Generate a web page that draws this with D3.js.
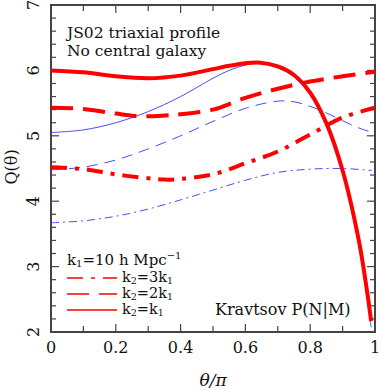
<!DOCTYPE html>
<html>
<head>
<meta charset="utf-8">
<script src="https://cdn.jsdelivr.net/npm/d3@7"></script>
<style>
  body { margin: 0; background: #fff; }
  svg text { font-family: "DejaVu Serif", "Liberation Serif", serif; fill: #111; }
</style>
</head>
<body>
<div class="vis"></div>
<script>
// theta/pi sample points and Q(theta)
const thetaA = [0, 0.1, 0.2, 0.3, 0.4, 0.5, 0.55, 0.6, 0.64, 0.7, 0.75, 0.8, 0.85, 0.9, 0.95, 0.975, 0.988]
const redSolid  = [6.0, 5.97, 5.91, 5.88, 5.92, 6.02, 6.07, 6.11, 6.12, 6.06, 5.93, 5.66, 5.19, 4.47, 3.4, 2.64, 2.17]
const blueSolid = [5.05, 5.09, 5.2, 5.37, 5.6, 5.88, 6.0, 6.08, 6.11, 6.04, 5.9, 5.62, 5.15, 4.42, 3.33, 2.55, 2.07]

const thetaB = [0, 0.1, 0.2, 0.27, 0.35, 0.4, 0.5, 0.6, 0.7, 0.8, 0.9, 1.0]
const redDash = [5.43, 5.41, 5.34, 5.30, 5.31, 5.33, 5.40, 5.58, 5.72, 5.83, 5.91, 5.98]

const thetaC = [0, 0.1, 0.2, 0.3, 0.4, 0.5, 0.6, 0.7, 0.75, 0.8, 0.85, 0.9, 0.95, 1.0]
const blueDash = [4.48, 4.52, 4.63, 4.8, 5.0, 5.22, 5.42, 5.53, 5.52, 5.45, 5.35, 5.23, 5.12, 5.04]

const thetaD = [0, 0.1, 0.2, 0.3, 0.35, 0.4, 0.5, 0.6, 0.7, 0.8, 0.9, 1.0]
const redDashDot = [4.52, 4.49, 4.41, 4.35, 4.33, 4.34, 4.41, 4.58, 4.76, 5.02, 5.28, 5.43]

const thetaE = [0, 0.1, 0.2, 0.3, 0.4, 0.5, 0.6, 0.7, 0.8, 0.9, 0.99]
const blueDashDot = [3.67, 3.7, 3.77, 3.88, 4.02, 4.17, 4.32, 4.44, 4.49, 4.5, 4.47]

const xTicks = [0, 0.2, 0.4, 0.6, 0.8, 1]
const yTicks = [2, 3, 4, 5, 6, 7]

const W = 382, H = 390
const m = {l: 51, r: 7, t: 5, b: 58}
const w = W - m.l - m.r, h = H - m.t - m.b

const svg = d3.select(".vis").append("svg").attr("width", W).attr("height", H)
const g = svg.append("g").attr("transform", `translate(${m.l}, ${m.t})`)

const x = d3.scaleLinear().domain([0, 1]).range([0, w])
const y = d3.scaleLinear().domain([2, 7]).range([h, 0])

g.append("clipPath").attr("id", "clip").append("rect").attr("width", w).attr("height", h)

// ticks, all inward on all four sides
const axisCol = "#444"
const xMinor = d3.range(0, 1.0001, 0.1)
const yMinor = d3.range(2, 7.0001, 0.2)
xMinor.forEach(v => {
    let major = xTicks.some(t => Math.abs(t - v) < 1e-6)
    let len = major ? 8 : 6
    g.append("line").attr("x1", x(v)).attr("x2", x(v)).attr("y1", h).attr("y2", h - len).attr("stroke", axisCol).attr("stroke-width", 1.2)
    g.append("line").attr("x1", x(v)).attr("x2", x(v)).attr("y1", 0).attr("y2", len).attr("stroke", axisCol).attr("stroke-width", 1.2)
})
yMinor.forEach(v => {
    let major = yTicks.some(t => Math.abs(t - v) < 1e-6)
    let len = major ? 8 : 5
    g.append("line").attr("y1", y(v)).attr("y2", y(v)).attr("x1", 0).attr("x2", len).attr("stroke", axisCol).attr("stroke-width", 1.2)
    g.append("line").attr("y1", y(v)).attr("y2", y(v)).attr("x1", w).attr("x2", w - len).attr("stroke", axisCol).attr("stroke-width", 1.2)
})

g.append("rect").attr("width", w).attr("height", h).attr("fill", "none").attr("stroke", axisCol).attr("stroke-width", 2)

// tick labels
g.selectAll(".xl").data(xTicks).enter().append("text")
    .attr("x", d => x(d)).attr("y", h + 21)
    .attr("text-anchor", "middle").style("font-size", "16px")
    .text(d => d === 0 ? "0" : d === 1 ? "1" : d3.format(".1f")(d))

g.selectAll(".yl").data(yTicks).enter().append("text")
    .attr("transform", d => `translate(-12, ${y(d)}) rotate(-90)`)
    .attr("text-anchor", "middle").style("font-size", "16px")
    .text(d => d)

// axis titles
g.append("text").attr("transform", `translate(-34, ${162}) rotate(-90)`)
    .attr("text-anchor", "middle").style("font-size", "16px").text("Q(θ)")
svg.append("text").attr("x", 213).attr("y", 386).attr("text-anchor", "middle")
    .style("font-size", "17px").style("font-style", "italic").text("θ/π")

// curves
const line = d3.line().x(d => x(d[0])).y(d => y(d[1])).curve(d3.curveCatmullRom)
const zip = (a, b) => a.map((v, i) => [v, b[i]])
const series = [
    {t: thetaE, q: blueDashDot, c: "#4a4aff", sw: 1, dash: "8,4,2,4"},
    {t: thetaC, q: blueDash, c: "#4a4aff", sw: 1, dash: "11,7"},
    {t: thetaA, q: blueSolid, c: "#4a4aff", sw: 1, dash: null},
    {t: thetaD, q: redDashDot, c: "#ff0000", sw: 4, dash: "16,8,4,8"},
    {t: thetaB, q: redDash, c: "#ff0000", sw: 4, dash: "22,10"},
    {t: thetaA, q: redSolid, c: "#ff0000", sw: 4, dash: null}
]
const cg = g.append("g").attr("clip-path", "url(#clip)")
series.forEach(s => {
    cg.append("path").datum(zip(s.t, s.q)).attr("d", line)
        .attr("fill", "none").attr("stroke", s.c).attr("stroke-width", s.sw)
        .attr("stroke-dasharray", s.dash)
})

// annotations
g.append("text").attr("x", 16).attr("y", 33).style("font-size", "15.5px").text("JS02 triaxial profile")
g.append("text").attr("x", 16).attr("y", 51).style("font-size", "15.5px").text("No central galaxy")

let k = g.append("text").attr("x", 16).attr("y", 260).style("font-size", "15px")
k.append("tspan").text("k")
k.append("tspan").attr("dy", 2).style("font-size", "10px").text("1")
k.append("tspan").attr("dy", -2).text("=10 h Mpc")
k.append("tspan").attr("dy", -6).style("font-size", "10px").text("−1")

const legend = [
    {dash: "16,8,4,8", mult: "3k"},
    {dash: "22,10", mult: "2k"},
    {dash: null, mult: "k"}
]
legend.forEach((d, i) => {
    let ly = 273 + i * 16
    g.append("line").attr("x1", 16).attr("x2", 66).attr("y1", ly).attr("y2", ly)
        .attr("stroke", "#ff0000").attr("stroke-width", 1.5).attr("stroke-dasharray", d.dash)
    let t = g.append("text").attr("x", 71).attr("y", ly + 4).style("font-size", "14.5px")
    t.append("tspan").text("k")
    t.append("tspan").attr("dy", 2).style("font-size", "9.5px").text("2")
    t.append("tspan").attr("dy", -2).text("=" + d.mult)
    t.append("tspan").attr("dy", 2).style("font-size", "9.5px").text("1")
})

g.append("text").attr("x", 164).attr("y", 310).style("font-size", "16px").text("Kravtsov P(N|M)")
</script>
</body>
</html>
